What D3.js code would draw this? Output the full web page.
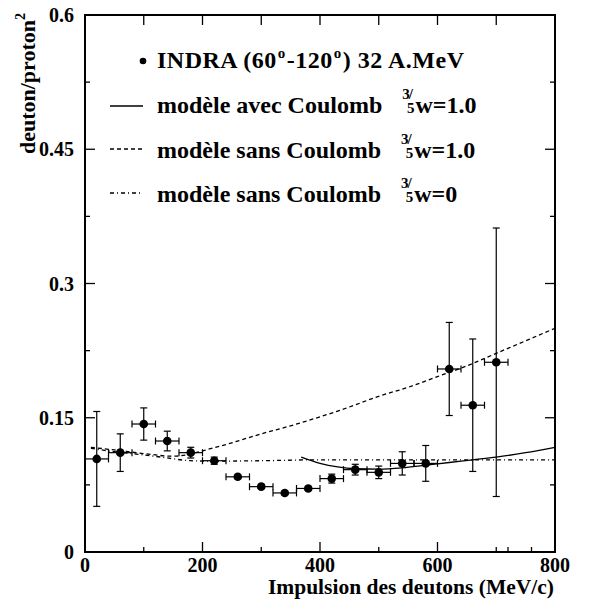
<!DOCTYPE html>
<html><head><meta charset="utf-8">
<script src="https://cdn.jsdelivr.net/npm/d3@7/dist/d3.min.js"></script>
<style>body{margin:0;background:#fff}svg{display:block}</style>
</head><body><svg id="c" width="590" height="603"></svg>
<script>
// ---- data ----
const momentum = [20,60,100,140,180,220,260,300,340,380,420,460,500,540,580,620,660,700];
const ratio    = [0.104,0.111,0.143,0.124,0.111,0.102,0.084,0.073,0.066,0.071,0.082,0.092,0.089,0.099,0.099,0.2045,0.164,0.212];
const ratioErr = [0.053,0.021,0.018,0.011,0.006,0.004,0.002,0.002,0.002,0.002,0.005,0.006,0.007,0.013,0.020,0.052,0.074,0.150];
const momentumErr = [20,20,20,20,20,20,20,20,20,20,20,20,20,20,20,20,20,20];

const avecX = [368,400,430,460,500,540,580,620,660,700,750,800];
const avecY = [0.106,0.099,0.095,0.093,0.0925,0.094,0.097,0.100,0.103,0.106,0.111,0.117];
const sansX = [10,50,100,150,180,200,250,300,350,400,450,500,550,600,650,700,750,800];
const sansY = [0.117,0.114,0.110,0.107,0.1095,0.113,0.122,0.132,0.141,0.151,0.162,0.174,0.184,0.196,0.208,0.222,0.236,0.250];
const sans0X = [10,50,80,130,180,220,300,400,500,600,700,800];
const sans0Y = [0.116,0.112,0.110,0.106,0.102,0.1015,0.102,0.103,0.103,0.103,0.103,0.103];

const xTickLabels = [0,200,400,600,800];
const xMinorTicks = [100,300,500,700,720,760];
const yTickLabels = [0,0.15,0.3,0.45,0.6];
const yMinorTicks = [0.075,0.225,0.375,0.525];
const topTicks = [100,200,300,400,500,600,700];

// ---- layout ----
const FONT = "'Liberation Serif', 'Times New Roman', serif";
const svg = d3.select("#c").style("font-family",FONT).style("font-weight","bold");
const L=85, R=555, T=15, B=552;
const x = d3.scaleLinear().domain([0,800]).range([L,R]);
const y = d3.scaleLinear().domain([0,0.6]).range([B,T]);

svg.append("rect").attr("x",L).attr("y",T).attr("width",R-L).attr("height",B-T)
  .attr("fill","none").attr("stroke","#000").attr("stroke-width",2);

const g = svg.append("g").attr("stroke","#000").attr("stroke-width",1.3);
xTickLabels.forEach(v=>g.append("line").attr("x1",x(v)).attr("x2",x(v)).attr("y1",B).attr("y2",B-10));
xMinorTicks.forEach(v=>g.append("line").attr("x1",x(v)).attr("x2",x(v)).attr("y1",B).attr("y2",B-5));
topTicks.forEach(v=>g.append("line").attr("x1",x(v)).attr("x2",x(v)).attr("y1",T).attr("y2",T+10));
yTickLabels.forEach(v=>{
  g.append("line").attr("x1",L).attr("x2",L+10).attr("y1",y(v)).attr("y2",y(v));
  g.append("line").attr("x1",R).attr("x2",R-10).attr("y1",y(v)).attr("y2",y(v));
});
yMinorTicks.forEach(v=>{
  g.append("line").attr("x1",L).attr("x2",L+5).attr("y1",y(v)).attr("y2",y(v));
  g.append("line").attr("x1",R).attr("x2",R-5).attr("y1",y(v)).attr("y2",y(v));
});

xTickLabels.forEach(v=>svg.append("text").attr("x",x(v)).attr("y",572).attr("text-anchor","middle")
  .attr("font-size",20).text(v));
yTickLabels.forEach(v=>svg.append("text").attr("x",74).attr("y",y(v)+7).attr("text-anchor","end")
  .attr("font-size",20).text(v));

svg.append("text").attr("x",R-1).attr("y",594).attr("text-anchor","end").attr("font-size",21.5)
  .text("Impulsion des deutons (MeV/c)");
const yt = svg.append("text").attr("transform","translate(35,13) rotate(-90)").attr("text-anchor","end").attr("font-size",22);
yt.append("tspan").text("deuton/proton");
yt.append("tspan").attr("font-size",14).attr("dy",-10).text("2");

const line = d3.line().x(d=>x(d[0])).y(d=>y(d[1])).curve(d3.curveMonotoneX);
svg.append("path").attr("d",line(d3.zip(avecX,avecY))).attr("fill","none").attr("stroke","#000").attr("stroke-width",1.3);
svg.append("path").attr("d",line(d3.zip(sansX,sansY))).attr("fill","none").attr("stroke","#000").attr("stroke-width",1.3).attr("stroke-dasharray","4,3");
svg.append("path").attr("d",line(d3.zip(sans0X,sans0Y))).attr("fill","none").attr("stroke","#000").attr("stroke-width",1.3).attr("stroke-dasharray","4,3,1,3");

const eb = svg.append("g").attr("stroke","#000").attr("stroke-width",1.2);
momentum.forEach((m,i)=>{
  const cx=x(m), cy=y(ratio[i]);
  const y1=y(ratio[i]+ratioErr[i]), y2=y(ratio[i]-ratioErr[i]);
  const x1=x(m-momentumErr[i]), x2=x(m+momentumErr[i]);
  eb.append("line").attr("x1",cx).attr("x2",cx).attr("y1",y1).attr("y2",y2);
  eb.append("line").attr("x1",cx-3.5).attr("x2",cx+3.5).attr("y1",y1).attr("y2",y1);
  eb.append("line").attr("x1",cx-3.5).attr("x2",cx+3.5).attr("y1",y2).attr("y2",y2);
  eb.append("line").attr("x1",x1).attr("x2",x2).attr("y1",cy).attr("y2",cy);
  eb.append("line").attr("x1",x1).attr("x2",x1).attr("y1",cy-3.5).attr("y2",cy+3.5);
  eb.append("line").attr("x1",x2).attr("x2",x2).attr("y1",cy-3.5).attr("y2",cy+3.5);
  svg.append("circle").attr("cx",cx).attr("cy",cy).attr("r",4.3).attr("fill","#000");
});

svg.append("circle").attr("cx",143).attr("cy",61).attr("r",3.3).attr("fill","#000");
const t1 = svg.append("text").attr("x",157).attr("y",68).attr("font-size",24).attr("letter-spacing",0.5);
t1.append("tspan").text("INDRA (60");
t1.append("tspan").attr("font-size",15).attr("dx",1).attr("dy",-10).text("o");
t1.append("tspan").attr("dx",1).attr("dy",10).text("-120");
t1.append("tspan").attr("font-size",15).attr("dx",1).attr("dy",-10).text("o");
t1.append("tspan").attr("dx",1).attr("dy",10).text(") 32 A.MeV");

const legRows = [
  {y:113, ly:106, dash:null, label:"modèle avec Coulomb", w:"w=1.0"},
  {y:158, ly:149, dash:"4,3", label:"modèle sans Coulomb", w:"w=1.0"},
  {y:202, ly:193, dash:"4,3,1,3", label:"modèle sans Coulomb", w:"w=0"}
];
legRows.forEach(r=>{
  const l = svg.append("line").attr("x1",110).attr("x2",143).attr("y1",r.ly).attr("y2",r.ly)
    .attr("stroke","#000").attr("stroke-width",1.3);
  if(r.dash) l.attr("stroke-dasharray",r.dash);
  const t = svg.append("text").attr("x",157).attr("y",r.y).attr("font-size",24);
  t.append("tspan").text(r.label);
  t.append("tspan").attr("font-size",15).attr("dx",20).attr("dy",-14).text("3");
  t.append("tspan").attr("font-size",15).attr("dx",-1).text("/");
  t.append("tspan").attr("font-size",15).attr("dx",-6).attr("dy",14).text("5");
  t.append("tspan").attr("dx",1).text(r.w);
});
</script></body></html>
